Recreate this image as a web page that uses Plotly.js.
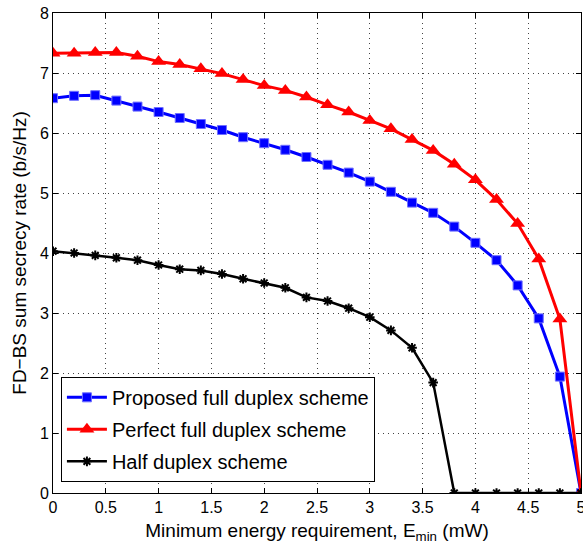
<!DOCTYPE html>
<html>
<head>
<meta charset="utf-8">
<script src="https://cdn.plot.ly/plotly-3.0.1.min.js"></script>
<style>html,body{margin:0;padding:0;background:#fff;}</style>
</head>
<body>
<div id="chart" style="width:583px;height:552px;"></div>
<script>
const energy = [0,0.2,0.4,0.6,0.8,1.0,1.2,1.4,1.6,1.8,2.0,2.2,2.4,2.6,2.8,3.0,3.2,3.4,3.6,3.8,4.0,4.2,4.4,4.6,4.8,5.0];
const proposedFD = [6.58,6.62,6.63,6.54,6.44,6.35,6.25,6.15,6.05,5.93,5.83,5.72,5.60,5.47,5.34,5.19,5.02,4.84,4.67,4.44,4.17,3.88,3.46,2.91,1.94,0];
const perfectFD = [7.33,7.33,7.34,7.34,7.28,7.19,7.14,7.07,6.99,6.89,6.79,6.71,6.60,6.47,6.35,6.21,6.07,5.89,5.71,5.48,5.22,4.89,4.49,3.90,2.90,0];
const halfDuplex = [4.03,4.00,3.96,3.92,3.88,3.80,3.73,3.71,3.65,3.57,3.50,3.42,3.26,3.20,3.08,2.93,2.71,2.42,1.84,0,0,0,0,0,0,0];
const seriesNames = ["Proposed full duplex scheme","Perfect full duplex scheme","Half duplex scheme"];
const xTicks = [0,0.5,1,1.5,2,2.5,3,3.5,4,4.5,5];
const yTicks = [0,1,2,3,4,5,6,7,8];

const font = "Liberation Sans, Arial, Helvetica, sans-serif";
const traces = [
  {x: energy, y: proposedFD, name: seriesNames[0], mode: "lines+markers", legendgroup:"a",
   line: {color: "#0000ff", width: 3},
   marker: {symbol: "square", size: 9, color: "#0000ff", line: {color: "#6f6fff", width: 1}}},
  {x: energy, y: perfectFD, name: seriesNames[1], mode: "lines+markers", legendgroup:"b",
   line: {color: "#ff0000", width: 3},
   marker: {symbol: "triangle-up", size: 13, color: "#ff0000"}},
  {x: energy, y: halfDuplex, name: seriesNames[2], mode: "lines+markers", legendgroup:"c",
   line: {color: "#000000", width: 2.5},
   marker: {symbol: "asterisk-open", size: 8, color: "#000000", line: {color: "#000000", width: 2}}}
];
const axisCommon = {
  showline: true, linecolor: "#000", linewidth: 1, mirror: "ticks",
  ticks: "inside", ticklen: 5, tickcolor: "#000", tickwidth: 1,
  showgrid: true, gridcolor: "#444", gridwidth: 1, griddash: "1px,4px",
  zeroline: false, tickfont: {family: font, size: 16, color: "#000"},
  ticklabeloverflow: "allow"
};
const layout = {
  width: 583, height: 552,
  margin: {l: 53, r: 2, t: 13, b: 59},
  paper_bgcolor: "#fff", plot_bgcolor: "#fff",
  font: {family: font, color: "#000"},
  showlegend: true,
  xaxis: Object.assign({}, axisCommon, {
    range: [0, 5], tickvals: xTicks, ticktext: xTicks.map(String),
    title: {text: "Minimum energy requirement, E<sub>min</sub> (mW)", font: {family: font, size: 19}, standoff: 8}
  }),
  yaxis: Object.assign({}, axisCommon, {
    range: [0, 8], tickvals: yTicks, ticktext: yTicks.map(String),
    title: {text: "FD\u2212BS sum secrecy rate (b/s/Hz)", font: {family: font, size: 19}, standoff: 8}
  }),
  legend: {
    x: 0.015, y: 0.242, xanchor: "left", yanchor: "top",
    bgcolor: "#fff", bordercolor: "#000", borderwidth: 1,
    font: {family: font, size: 20, color: "#000"},
    tracegroupgap: 3, itemwidth: 40
  }
};
Plotly.newPlot("chart", traces, layout, {displayModeBar: false, staticPlot: true});
</script>
</body>
</html>
